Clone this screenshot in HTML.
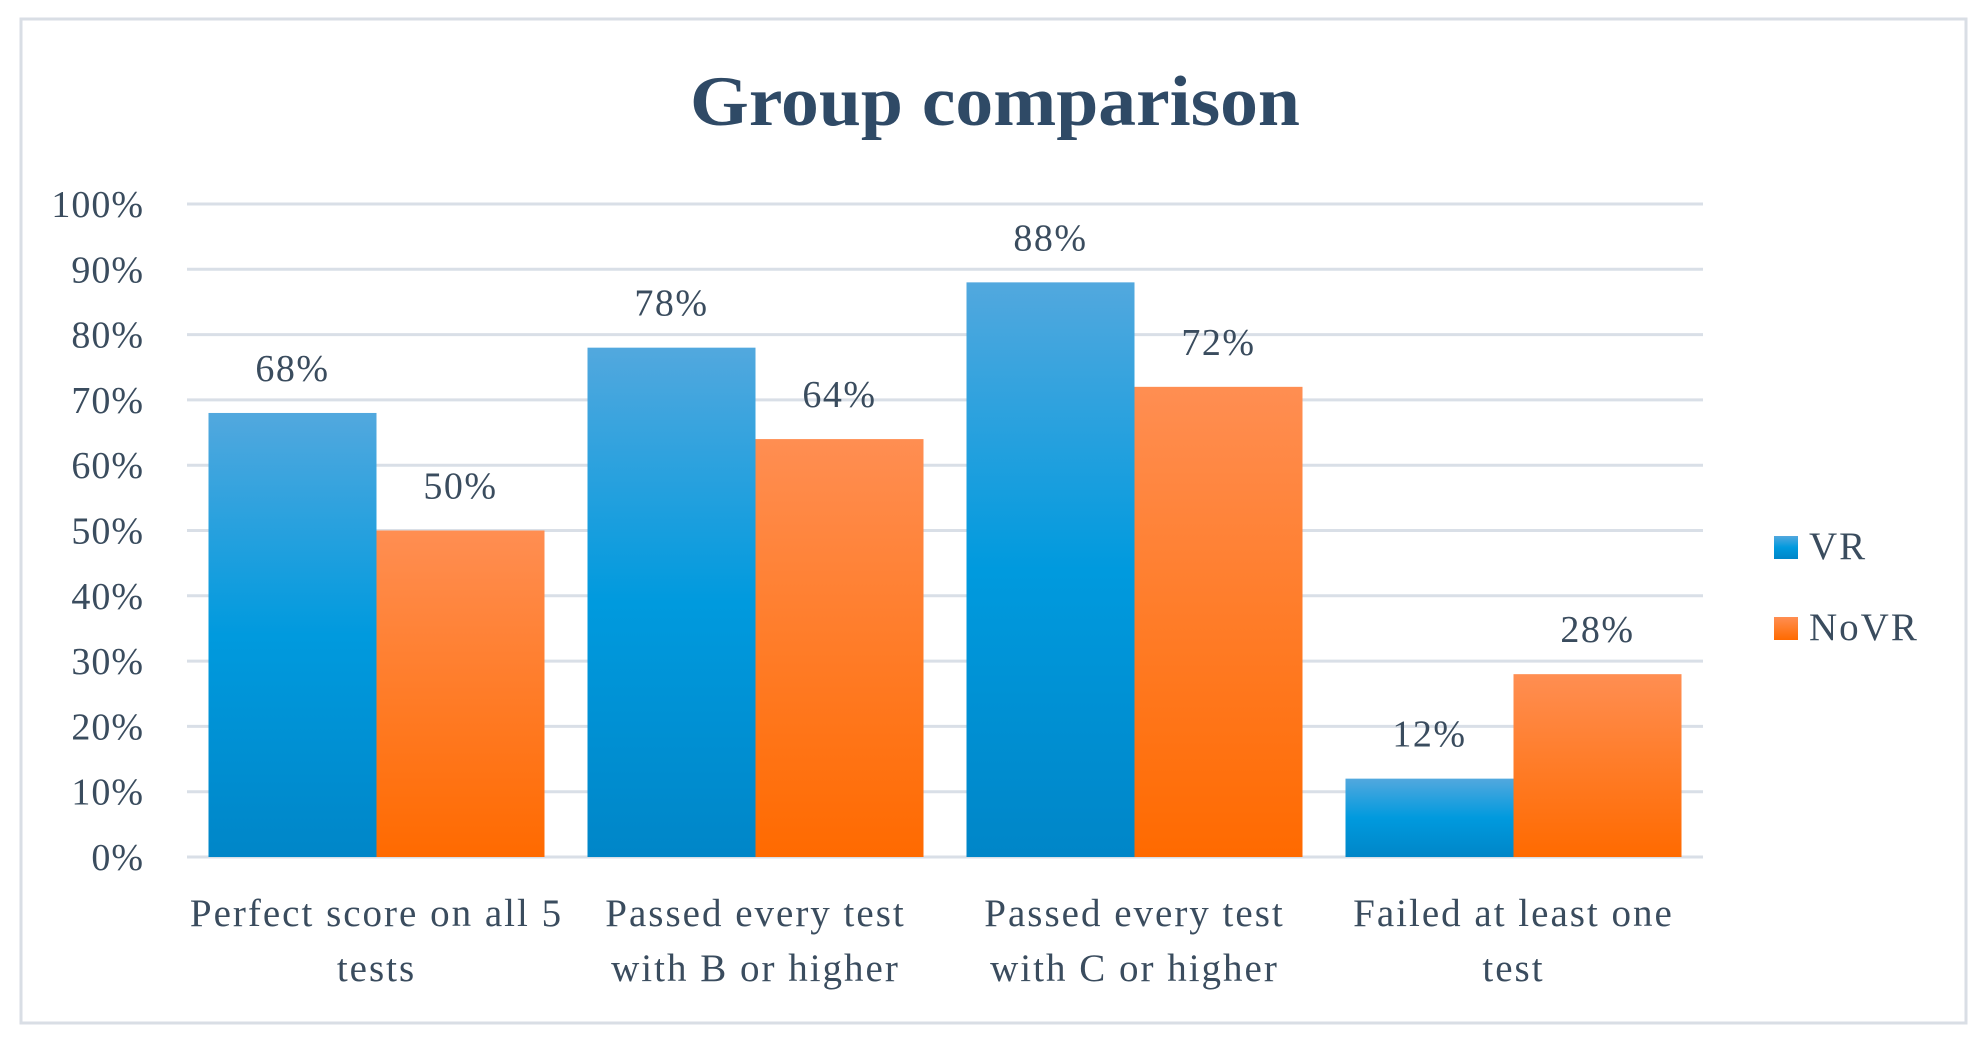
<!DOCTYPE html>
<html><head><meta charset="utf-8">
<style>
html,body{margin:0;padding:0;background:#fff;}
svg{display:block;font-family:"Liberation Serif",serif;}
</style></head>
<body>
<svg id="chart" width="1985" height="1045" viewBox="0 0 1985 1045">
<defs>
<linearGradient id="gBlue" x1="0" y1="0" x2="0" y2="1">
<stop offset="0" stop-color="#52a8de"/><stop offset="0.5" stop-color="#009ade"/><stop offset="1" stop-color="#0086c8"/>
</linearGradient>
<linearGradient id="gOrange" x1="0" y1="0" x2="0" y2="1">
<stop offset="0" stop-color="#ff8e52"/><stop offset="0.5" stop-color="#ff7c28"/><stop offset="1" stop-color="#ff6a00"/>
</linearGradient>
</defs>
<rect x="21" y="19" width="1945" height="1004" fill="#fff" stroke="#d9dee5" stroke-width="3"/>
<text x="995" y="125" text-anchor="middle" font-weight="bold" font-size="71" fill="#2f4a66" textLength="610" lengthAdjust="spacingAndGlyphs">Group comparison</text>
<g id="grid"></g>
<g id="bars"></g>
<g id="labels"></g>
<g>
<rect x="1774" y="536" width="24" height="23" fill="url(#gBlue)"/>
<text x="1809" y="559" font-size="39" letter-spacing="2" fill="#3a4c5e">VR</text>
<rect x="1774" y="617" width="24" height="23" fill="url(#gOrange)"/>
<text x="1809" y="640" font-size="39" letter-spacing="2" fill="#3a4c5e">NoVR</text>
</g>
</svg>
<script>
const categories = [["Perfect score on all 5","tests"],["Passed every test","with B or higher"],["Passed every test","with C or higher"],["Failed at least one","test"]];
const vrValues = [68, 78, 88, 12];
const noVrValues = [50, 64, 72, 28];
const yTicks = [0,10,20,30,40,50,60,70,80,90,100];

const NS = "http://www.w3.org/2000/svg";
const plotL = 187, plotR = 1703, y0 = 857, y100 = 204;
const yScale = v => y0 - (v/100)*(y0-y100);
const groupW = (plotR-plotL)/categories.length;
const barW = 168, pad = (groupW - 2*barW)/2;
const xGroup = i => plotL + i*groupW;

function mk(tag, attrs, parent){const e=document.createElementNS(NS,tag);for(const k in attrs)e.setAttribute(k,attrs[k]);parent.appendChild(e);return e;}
const grid=document.getElementById('grid'), bars=document.getElementById('bars'), labels=document.getElementById('labels');

yTicks.forEach(t=>{
  const y=yScale(t);
  const l=mk('line',{x1:plotL,x2:plotR,y1:y,y2:y,stroke:'#d9dfe7','stroke-width':3},grid);
  
  
  const tx=mk('text',{x:144,y:y+13,'text-anchor':'end','font-size':38,'letter-spacing':1,fill:'#3a4c5e'},grid);
  tx.textContent=t+'%';
  
  
});

categories.forEach((c,i)=>{
  const series=[[vrValues[i],'url(#gBlue)','vr'],[noVrValues[i],'url(#gOrange)','novr']];
  series.forEach((s,j)=>{
    const x=xGroup(i)+pad+j*barW, y=yScale(s[0]);
    const r=mk('rect',{x:x,y:y,width:barW,height:y0-y,fill:s[1]},bars);
    
    
    const t=mk('text',{x:x+barW/2,y:y-32,'text-anchor':'middle','font-size':38,'letter-spacing':1.5,fill:'#3a4c5e'},labels);
    t.textContent=s[0]+'%';
    
    
  });
  c.forEach((line,k)=>{
    const t=mk('text',{x:xGroup(i)+groupW/2,y:926+k*55,'text-anchor':'middle','font-size':39,'letter-spacing':2,fill:'#3a4c5e'},labels);
    t.textContent=line;
    
    
  });
});
</script>
</body></html>
